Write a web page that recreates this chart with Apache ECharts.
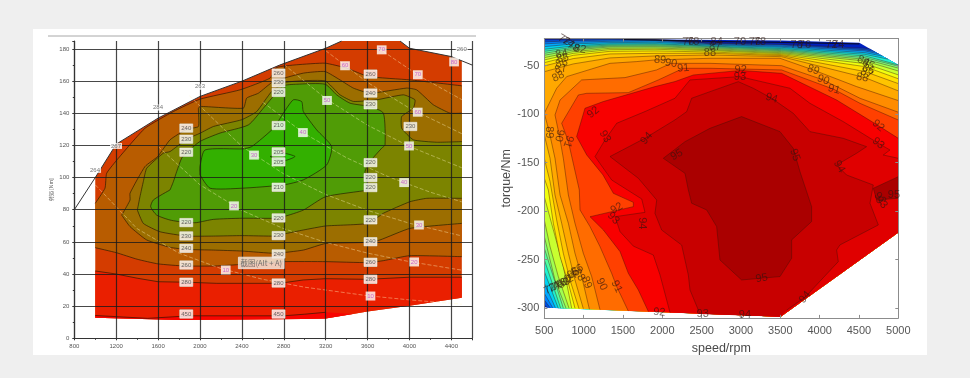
<!DOCTYPE html>
<html>
<head>
<meta charset="utf-8">
<style>
  html, body { margin: 0; padding: 0; background: #efefef; }
  #main { width: 970px; height: 378px; filter: blur(0.5px); }
</style>
<script src="https://cdn.jsdelivr.net/npm/echarts@6/dist/echarts.min.js"></script>
</head>
<body>
<div id="main"></div>
<script>
// left map: [rpm, Nm]
const leftEnvelope = [[1000,100],[1200,120.8],[1600,137],[2000,150.5],[2400,160],[2760,170],[3200,180.5],[3353,185],[3910,185],[4000,180.5],[4400,175.3],[4500,172.7],[4500,25.3],[4000,20.3],[3600,16.6],[3460,15.1],[3200,12.3],[2986,12],[1800,11.4],[1000,12.8]];
const leftOutline = [[800,80],[1000,100],[1200,120.8],[1600,137],[2000,150.5],[2400,160],[2760,170],[3200,180.5],[3353,185]];
const leftOutlineEnd = [[3910,185],[4000,180.5],[4400,175.3],[4600,170]];
const left450 = [[1000,14.2],[1500,12.4],[1900,14],[2800,14],[3000,15],[3200,16.2],[3460,15.1],[3200,12.3],[2986,12],[1800,11.4],[1000,12.8]];
const left280 = [[1000,41.9],[1200,40],[1400,37.4],[1600,35.2],[1873,34.9],[2160,34.2],[2400,34.2],[2716,34.2],[2800,34.6],[2986,36.3],[3200,37.1],[3600,36.7],[4000,38],[4500,38]];
const left280Floor = [[4500,25.3],[4000,20.3],[3600,16.6],[3460,15.1],[3200,12.3],[2986,12],[1800,11.4],[1000,12.8]];
const left260Low = [[1000,56.4],[1200,53.3],[1400,49.2],[1600,46.3],[1850,45],[2150,45],[2400,46],[2800,47.7],[3200,47.7],[3600,47.1],[3750,48.3],[4000,51.4],[4500,50.8]];
const left260Up = [[1000,84],[1093,93.4],[1109,102.7],[1220,112],[1475,130.7],[1746,141.1],[2000,148.8],[2382,154.6],[2669,161.9],[2732,168.5],[2923,170.2],[3194,171.2],[3401,168.1],[3608,162.9],[4005,160.8],[4500,157.1]];
const left240Low = [[1252,76.7],[1332,69.5],[1491,61.2],[1714,56.6],[1873,55.3],[2128,54.9],[2401,54.3],[2717,52.9],[2987,54.9],[3200,59],[3608,59.7],[3719,61.2],[4005,68.4],[4500,71.5]];
const left240Up = [[1252,76.7],[1265,78],[1332,86],[1332,90.3],[1475,106.9],[1596,113.1],[1714,123.5],[1873,130.1],[1985,131.8],[1985,143],[2000,144.3],[2414,143.2],[2446,149.5],[2557,152.5],[2701,159.8],[2987,165],[3194,166],[3337,160.8],[3464,155.7],[3624,152.5],[3974,155.7],[4069,154.6],[4228,145.3],[4387,140.1],[4500,140.1]];
const left230Low = [[1402,79.8],[1459,71.5],[1618,66.3],[1873,63.6],[2128,63.6],[2401,63.9],[2717,63.6],[2800,64.9],[2987,67.4],[3200,69.9],[3608,71.5],[3751,77.8],[4005,85],[4165,87.1],[4500,87.1]];
const left230Up = [[1402,79.8],[1427,88.1],[1459,97.5],[1491,105.8],[1650,115.2],[1714,116.2],[1873,123.9],[2000,127.6],[2128,131.8],[2398,136],[2541,141.1],[2685,153.6],[2828,159.4],[3194,160.2],[3337,151.5],[3464,147.4],[3687,148.4],[3942,151.5],[4053,148.4],[4037,143.2],[3926,138],[3926,130.7],[4037,123.5],[4260,122],[4500,122.4]];
const left220 = [[1714,92.3],[1555,86.1],[1529,81.9],[1586,76.7],[1714,73.6],[1873,72],[1968,72],[2128,74],[2401,74.7],[2717,74.7],[2800,75.7],[2987,79.8],[3200,88.1],[3608,92.3],[3608,93.4],[3576,103.8],[3624,110],[3735,118.3],[3767,120.4],[3751,140.1],[3624,144.2],[3433,146.3],[3305,151.5],[3194,158.1],[2923,158.1],[2796,157.1],[2685,149.4],[2605,143.2],[2462,132.8],[2191,127.7],[2000,122.5],[1873,115.6],[1825,112.1],[1778,103.8],[1746,97.5],[1714,92.3]];
const left210 = [[2000,101.7],[2000,106.9],[2048,117.2],[2414,117.9],[2494,119.3],[2701,130.7],[2796,140.1],[2891,148.4],[2971,147.3],[2987,141.1],[3114,129.7],[3257,119.3],[3210,107.9],[2987,98.6],[2802,95.5],[2401,93.4],[2096,93.4],[2000,101.7]];
const left205 = [[2669,113.1],[2796,115.2],[2907,113.1],[2796,110.4],[2669,113.1]];

// dashed power lines, kW
const power10 = [[1000,95.5],[1400,68.2],[1800,53],[2200,43.4],[2600,36.7],[3000,31.8],[3600,26.5],[4000,23.9],[4500,21.2]];
const power20 = [[1600,119.4],[2000,95.5],[2400,79.6],[2800,68.2],[3200,59.7],[3600,53],[4000,47.7],[4500,42.4]];
const power30 = [[1900,150.8],[2400,119.4],[2800,102.3],[3200,89.5],[3600,79.6],[4000,71.6],[4500,63.7]];
const power40 = [[2600,146.9],[3000,127.3],[3400,112.3],[3800,100.5],[4200,90.9],[4500,84.9]];
const power50 = [[2800,170.5],[3200,149.2],[3600,132.6],[4000,119.4],[4500,106.1]];
const power60 = [[3200,179],[3600,159.2],[4000,143.2],[4500,127.3]];
const power70 = [[3700,180.7],[4100,163],[4500,148.5]];

const leftBoxLabels = [
  [1869,130.8,'240'],[1869,123.9,'230'],[1869,115.8,'220'],[1869,72,'220'],[1869,63.7,'230'],[1869,56,'240'],[1869,45.6,'260'],[1869,34.9,'280'],[1869,15.1,'450'],
  [2750,165,'260'],[2750,159,'230'],[2750,153,'220'],[2750,132.4,'210'],[2750,116,'205'],[2750,109.8,'205'],[2750,94,'210'],[2750,74.9,'220'],[2750,63.9,'230'],[2750,52.5,'240'],[2750,34.4,'280'],[2750,15.1,'450'],
  [3628,164.4,'260'],[3628,152.6,'240'],[3628,145.3,'230'],[3628,109.3,'220'],[3628,100,'220'],[3628,93.8,'220'],[3628,73.7,'220'],[3628,60.1,'240'],[3628,47.3,'260'],[3628,36.7,'280'],
  [4009,131.8,'230']
];
const leftPowerLabels = [
  [3735,179.5,'70'],[3385,169.6,'60'],[4426,172,'80'],[4080,164,'70'],[3213,148,'50'],[4079,140.7,'60'],[2983,128,'40'],[3996,119.7,'50'],[2516,114,'30'],[3949,96.9,'40'],
  [2325,82.4,'20'],[4091,70.5,'30'],[4045,47.5,'20'],[2246,42.5,'10'],[3628,26.3,'10']
];
const leftPlainLabels = [[998,104.8,'264'],[1599,143.6,'284'],[2000,156.5,'263'],[1198,119.7,'267'],[4499,179.5,'260']];
const leftMarker = [[2796,116.6]];
const leftTag = [[2585,46.9,'截图(Alt + A)']];
const leftXTicks = [800,1200,1600,2000,2400,2800,3200,3600,4000,4400];
const leftYTicks = [0,20,40,60,80,100,120,140,160,180];

// right map: [rpm, Nm], contour of each efficiency level
const rightEnvelope = [[500,-22],[3517,-24],[4504,-26.5],[5000,-49.3],[5000,-222],[3504,-308.7],[500,-299]];
const rightCorner = [[5000,-222],[3504,-308.7]];
const rightCornerTop = [[5000,-49.3],[5000,-222],[3504,-308.7]];
const level72 = [[539,-299.5],[500,-296.6],[500,-23.5],[869,-22.8],[1335,-22.5],[1907,-23],[2606,-26.6],[3517,-28],[4576,-32.1],[4650,-33.2]];
const level74 = [[573,-299.5],[500,-291.5],[500,-25.6],[869,-24.2],[1335,-23.5],[1907,-23.5],[2606,-27.3],[3517,-28.7],[4576,-33.5],[4700,-35.5]];
const level76 = [[606,-299.5],[500,-284.6],[500,-27.6],[869,-25.9],[1335,-24.9],[1907,-24.5],[2606,-28],[3517,-30],[4576,-34.8],[4750,-37.8]];
const level78 = [[640,-299.5],[500,-274],[500,-30.4],[869,-27.6],[1335,-26.3],[1907,-25.9],[2606,-28.7],[3517,-31.1],[4576,-36.6],[4800,-40.1]];
const level80 = [[678,-300],[500,-262],[500,-33.1],[869,-29.7],[1335,-27.6],[1907,-27.3],[2606,-29.7],[3517,-32.4],[4576,-38.3],[4870,-43.3]];
const level81 = [[708,-300],[500,-250],[500,-35.2],[869,-31.1],[1335,-28.7],[1907,-28.3],[2606,-30.4],[3517,-33.5],[4576,-40],[5000,-49.3]];
const level82 = [[742,-300],[500,-238],[500,-37.3],[869,-32.4],[1335,-29.7],[1907,-29.4],[2606,-31.4],[3517,-34.5],[4576,-41.7],[5000,-50.5]];
const level83 = [[776,-300],[636,-270.9],[573,-250.3],[500,-226],[500,-39.3],[869,-33.8],[1335,-30.7],[1907,-30.4],[2606,-32.4],[3517,-35.5],[4576,-43.4],[5000,-52.5]];
const level84 = [[814,-300],[678,-267.4],[573,-236.5],[500,-209],[500,-41.7],[869,-35.5],[1335,-32.1],[1907,-31.8],[2606,-33.5],[3517,-36.6],[4576,-45.2],[5000,-55.5]];
const level85 = [[848,-300],[742,-257.1],[615,-219.3],[500,-185],[500,-44.1],[869,-37.3],[1335,-33.5],[1907,-33.1],[2606,-34.5],[3517,-37.6],[4576,-47.9],[5000,-59.5]];
const level86 = [[890,-300],[806,-274.3],[700,-246.8],[615,-212.5],[551,-178.1],[500,-166],[500,-46.9],[869,-39.3],[1335,-35.2],[1907,-34.8],[2606,-35.9],[3517,-38.6],[4576,-51],[5000,-63.5]];
const level87 = [[941,-300.5],[827,-270.9],[742,-243.4],[657,-209],[573,-169.5],[500,-145.5],[500,-50.3],[869,-42.7],[1335,-37.9],[1907,-37.3],[2606,-37.2],[3517,-39.6],[4576,-56.1],[5000,-68.5]];
const level88 = [[996,-300.5],[890,-270.9],[806,-243.4],[721,-212.5],[636,-183.3],[573,-145.5],[500,-121.5],[500,-56.2],[869,-48.2],[1335,-42],[1907,-40],[2606,-39],[3517,-40.7],[4576,-62.3],[5000,-76]];
const level89 = [[1073,-301],[975,-267.4],[890,-243.4],[806,-212.5],[700,-183.3],[636,-145.5],[564,-118.7],[500,-99.1],[657,-73.3],[784,-61.3],[1335,-47.6],[1674,-45.8],[1907,-44.1],[2606,-42.4],[3496,-42.4],[3919,-54.4],[4470,-71.6],[5000,-86]];
const level90 = [[1208,-301.5],[1102,-267.4],[996,-243.4],[890,-212.5],[806,-183.3],[742,-145.5],[691,-122.1],[636,-100.8],[700,-85.4],[975,-64.7],[1526,-62.3],[1928,-54.4],[2111,-47.6],[2606,-47.6],[3517,-50],[4047,-64.7],[4513,-83.6],[5000,-98]];
const level91 = [[1568,-303],[1420,-277.7],[1356,-264],[1208,-236.5],[1081,-215.9],[954,-198.7],[945,-178.1],[806,-128.3],[721,-109.4],[933,-80.2],[1039,-78.5],[1568,-77.8],[1950,-64.7],[2267,-52.7],[2606,-52.7],[3517,-54.4],[4182,-74.4],[4513,-88.8],[5000,-106]];
const level92 = [[1823,-303.5],[1695,-281.2],[1568,-264],[1463,-241.7],[1251,-219.4],[1081,-205.7],[1632,-195.3],[1632,-190.9],[1378,-181.6],[1246,-162.6],[1039,-142],[911,-123.1],[1017,-93.9],[1250,-87],[1907,-71.6],[2161,-66.4],[2395,-59.6],[2996,-54.9],[3517,-57.9],[4216,-85.4],[4746,-111.8],[5000,-124.9]];
const level93 = [[2098,-304.5],[1971,-265.7],[1886,-245.2],[1632,-236],[1463,-221.1],[1399,-205.7],[1780,-201.2],[1738,-187.4],[1357,-167.9],[1145,-143.7],[1272,-126.5],[1420,-109.4],[1780,-97.3],[2161,-83.6],[2352,-64.7],[2987,-61.3],[3623,-73.3],[3877,-88.8],[4301,-107.7],[4746,-130],[4894,-136.9],[4809,-142.1],[5000,-145.5]];
const level94 = [[2479,-306],[2352,-281.2],[2331,-265.8],[2246,-234.9],[1992,-219.4],[1907,-202.2],[1929,-188.5],[1696,-166.1],[1335,-143.7],[1780,-124.8],[2161,-105.9],[2310,-97.4],[2373,-83.6],[2606,-76.8],[2966,-66.5],[3157,-73.3],[3390,-83.6],[3665,-99.1],[3877,-118],[4301,-124.9],[4597,-133.5],[4470,-140.3],[4216,-152.4],[4343,-162.7],[4682,-173],[4640,-191.8],[4746,-214.2],[4258,-234.8],[4216,-240],[4237,-252],[3814,-288.7],[3580,-302]];
const level95 = [[2013,-145.5],[2289,-128.3],[2606,-114.6],[3008,-102.5],[3496,-118],[3665,-135.2],[3750,-159.2],[3835,-179.9],[3898,-195.3],[3898,-210.7],[3644,-229.6],[3644,-248.5],[3496,-267.4],[3008,-270.9],[2733,-250.3],[2691,-215.9],[2564,-198.7],[2373,-191.8],[2331,-178.1],[2289,-161],[2013,-145.5]];
const level95Right = [[4682,-176.4],[5000,-164.4],[5000,-186.7],[4724,-188.4],[4682,-176.4]];
const level70Line = [[1500,-23],[2606,-25],[3517,-26],[4504,-27.6]];

// [rpm, Nm, text, rotate]
const rightLabels = [
  [750,-23.5,'72',-30],[805,-26.3,'74',-30],[869,-30.4,'78',-30],[953,-32.8,'82',-10],[720,-38,'84',10],[733,-42.4,'85',10],[720,-47.6,'86',10],[708,-53.7,'87',10],[678,-61.3,'88',25],
  [564,-118.7,'89',-90],[691,-122.1,'90',-100],[806,-128.3,'91',-110],[1123,-98.1,'92',40],[1272,-123.1,'93',-60],[1801,-124.9,'94',50],[2183,-142,'95',30],
  [1971,-44.1,'89',-5],[2111,-47.6,'90',-10],[2267,-52.7,'91',5],[2996,-54.4,'92',0],[2987,-61.3,'93',0],[3390,-83.6,'94',-15],[3686,-142.1,'95',-70],[4250,-154.1,'94',-60],
  [3919,-54.4,'89',-20],[4047,-64.7,'90',-20],[4182,-74.4,'91',-15],[4746,-111.8,'92',-40],[4746,-130,'93',-40],
  [4555,-45.2,'84',-25],[4619,-48.6,'85',-25],[4619,-53.7,'86',-25],[4598,-57.9,'87',-25],[4542,-62.3,'88',-10],
  [2987,-25.2,'70',0],[2691,-25.9,'84',0],[2670,-30.4,'87',0],[2606,-37.2,'88',0],[2331,-25.2,'76',0],[2394,-25.2,'78',0],[3178,-26,'76',0],[3242,-26,'78',0],[3708,-28.7,'78',0],[3813,-28.7,'76',0],[4152,-28.7,'72',0],[4237,-28.7,'74',0],
  [1420,-197,'92',30],[1378,-207.3,'93',-45],[1738,-212.5,'94',-90],[1039,-273.6,'89',-70],[1229,-275.3,'90',-65],[1420,-277.7,'91',-65],[1962,-304.2,'92',-5],[2513,-306,'93',0],
  [3051,-306.9,'94',0],[3263,-269.2,'95',10],[3814,-288.7,'94',50],[4767,-186.7,'92',-50],[4788,-191.2,'93',-50],[4945,-183.3,'95',0],
  [573,-280.1,'72',30],[623,-278.4,'74',30],[666,-276.7,'76',30],[708,-275.3,'78',30],[750,-274.3,'80',30],[793,-271.6,'82',30],[835,-268.1,'84',30],[869,-264,'85',30],[920,-260.6,'86',30],[945,-265.7,'88',-60]
];
const rightXTicks = [500,1000,1500,2000,2500,3000,3500,4000,4500,5000];
const rightYTicks = [-50,-100,-150,-200,-250,-300];

const lineDark = 'rgba(30,20,0,0.7)';
const lineWarm = 'rgba(60,15,5,0.45)';

// fill + contour stroke, all points go through the axis scales
function region(gridIdx, fillPts, strokes, color, stroke, fillSmooth, lineSmooth) {
  return {
    type: 'custom',
    xAxisIndex: gridIdx === 0 ? 0 : 1,
    yAxisIndex: gridIdx === 0 ? 0 : 1,
    clip: true,
    silent: true,
    z: 2,
    data: [fillPts[0]],
    renderItem: (params, api) => {
      const children = [{
        type: 'polygon',
        shape: { points: fillPts.map((p) => api.coord(p)), smooth: fillSmooth || 0 },
        style: { fill: color }
      }];
      if (stroke) {
        strokes.forEach((s) => {
          children.push({
            type: 'polyline',
            shape: { points: s.map((p) => api.coord(p)), smooth: lineSmooth || 0 },
            style: { fill: null, stroke: stroke, lineWidth: 0.9 }
          });
        });
      }
      return { type: 'group', children };
    }
  };
}

function bandLeft(low, up, color) {
  return region(0, low.concat(up.slice().reverse()), [low, up], color, lineDark, 0, 0.15);
}

function powerLine(pts) {
  return {
    type: 'line', xAxisIndex: 0, yAxisIndex: 0, data: pts, symbol: 'none', silent: true, z: 2,
    lineStyle: { color: 'rgba(255,245,190,0.4)', width: 1, type: 'dashed' }
  };
}

function plainLine(xi, pts, color, width) {
  return {
    type: 'line', xAxisIndex: xi, yAxisIndex: xi, data: pts, symbol: 'none', silent: true, z: 2,
    lineStyle: { color: color, width: width }
  };
}

function textSeries(xi, rows, labelStyle, z) {
  return {
    type: 'scatter', xAxisIndex: xi, yAxisIndex: xi, symbolSize: 0, silent: true, z: z || 6,
    data: rows.map((r) => ({ value: r.slice(0, 3), label: { rotate: r[3] || 0 } })),
    label: Object.assign({ show: true, position: 'inside', formatter: (p) => p.value[2] }, labelStyle)
  };
}

function rightLevel(pts, color, corner) {
  return region(1, pts.concat(corner || rightCorner), [pts], color, lineWarm);
}

const rightLevels = [
  [level72,'#0050e0',rightCornerTop],[level74,'#0080ff',rightCornerTop],[level76,'#00a8ff',rightCornerTop],[level78,'#00d0f0',rightCornerTop],[level80,'#20f0d0',rightCornerTop],
  [level81,'#50ffa0'],[level82,'#80ff80'],[level83,'#a0ff50'],[level84,'#c8ff30'],[level85,'#f0ff10'],
  [level86,'#ffe000'],[level87,'#ffc400'],[level88,'#ffa800'],[level89,'#ff8c00'],[level90,'#ff6c00'],[level91,'#ff4000'],[level92,'#f80000'],[level93,'#e00000']
];

const axisGrey = '#8c8c8c';
const plainNumber = (v) => String(v);
const chart = echarts.init(document.getElementById('main'), null, { renderer: 'canvas' });

chart.setOption({
  animation: false,
  backgroundColor: '#efefef',
  graphic: [
    { type: 'rect', z: -10, silent: true, shape: { x: 33, y: 29, width: 894, height: 326 }, style: { fill: '#ffffff' } },
    { type: 'line', z: -9, silent: true, shape: { x1: 48, y1: 36, x2: 476, y2: 36 }, style: { stroke: '#a8a8a8', lineWidth: 1 } }
  ],
  grid: [
    { left: 74.3, top: 41, width: 398, height: 297.3 },
    { left: 544.3, top: 38.5, width: 354, height: 279.4 }
  ],
  xAxis: [
    {
      gridIndex: 0, type: 'value', min: 800, max: 4600, interval: 400, z: 4,
      axisLine: { lineStyle: { color: '#333', width: 1.2 } },
      axisTick: { show: true, length: 2, lineStyle: { color: '#333' } },
      minorTick: { show: true, splitNumber: 2, length: 1.5, lineStyle: { color: '#333' } },
      axisLabel: { fontSize: 6, color: '#555', margin: 5, fontFamily: 'Liberation Sans', customValues: leftXTicks, formatter: plainNumber },
      splitLine: { show: true, lineStyle: { color: 'rgba(25,25,25,0.8)', width: 1.2 } }
    },
    {
      gridIndex: 1, type: 'value', min: 500, max: 5000, interval: 500, z: 5,
      axisLine: { lineStyle: { color: axisGrey } },
      axisTick: { inside: true, length: 3, lineStyle: { color: axisGrey }, customValues: rightXTicks },
      axisLabel: { fontSize: 11, color: '#555', margin: 8, fontFamily: 'Liberation Sans', customValues: rightXTicks, hideOverlap: false, formatter: plainNumber },
      splitLine: { show: false },
      name: 'speed/rpm', nameLocation: 'middle', nameGap: 23,
      nameTextStyle: { fontSize: 12.5, color: '#4a4a4a', fontFamily: 'Liberation Sans' }
    },
    {
      gridIndex: 1, type: 'value', min: 500, max: 5000, interval: 500, position: 'top', z: 5,
      axisLine: { lineStyle: { color: axisGrey } },
      axisTick: { inside: true, length: 3, lineStyle: { color: axisGrey }, customValues: rightXTicks },
      axisLabel: { show: false }, splitLine: { show: false }
    }
  ],
  yAxis: [
    {
      gridIndex: 0, type: 'value', min: 0, max: 185, interval: 20, z: 4,
      axisLine: { lineStyle: { color: '#333', width: 1.2 } },
      axisTick: { show: true, length: 2, lineStyle: { color: '#333' } },
      minorTick: { show: true, splitNumber: 2, length: 1.5, lineStyle: { color: '#333' } },
      axisLabel: { fontSize: 6, color: '#555', margin: 5, fontFamily: 'Liberation Sans', customValues: leftYTicks, formatter: plainNumber },
      splitLine: { show: true, showMaxLine: false, lineStyle: { color: 'rgba(25,25,25,0.8)', width: 1.2 } },
      name: '转矩 [Nm]', nameLocation: 'middle', nameGap: 21, nameRotate: 90,
      nameTextStyle: { fontSize: 5, color: '#555', fontFamily: 'Noto Sans CJK SC' }
    },
    {
      gridIndex: 1, type: 'value', min: -310, max: -22, z: 5,
      axisLine: { lineStyle: { color: axisGrey } },
      axisTick: { inside: true, length: 3, lineStyle: { color: axisGrey }, customValues: rightYTicks },
      axisLabel: { fontSize: 11, color: '#555', margin: 5, fontFamily: 'Liberation Sans', customValues: rightYTicks, formatter: plainNumber },
      splitLine: { show: false },
      name: 'torque/Nm', nameLocation: 'middle', nameGap: 24, nameRotate: 90,
      nameTextStyle: { fontSize: 12.5, color: '#4a4a4a', fontFamily: 'Liberation Sans' }
    },
    {
      gridIndex: 1, type: 'value', min: -310, max: -22, position: 'right', z: 5,
      axisLine: { lineStyle: { color: axisGrey } },
      axisTick: { inside: true, length: 3, lineStyle: { color: axisGrey }, customValues: rightYTicks },
      axisLabel: { show: false }, splitLine: { show: false }
    }
  ],
  series: [
    region(0, leftEnvelope, [], '#d43c00'),
    region(0, left280.concat(left280Floor), [left280], '#ea1f00', lineDark),
    region(0, left450, [], '#f80400'),
    plainLine(0, left450.slice(0, 6), lineDark, 0.9),
    bandLeft(left260Low, left260Up, '#b85c00'),
    bandLeft(left240Low, left240Up, '#9c6e00'),
    bandLeft(left230Low, left230Up, '#7c8400'),
    region(0, left220, [left220], '#509c06', lineDark, 0.2, 0.2),
    region(0, left210, [left210], '#33b000', lineDark, 0.2, 0.2),
    region(0, left205, [left205], '#24c400', lineDark, 0.2, 0.2),
    powerLine(power10), powerLine(power20), powerLine(power30), powerLine(power40), powerLine(power50), powerLine(power60), powerLine(power70),
    plainLine(0, leftOutline, '#333', 1),
    plainLine(0, leftOutlineEnd, '#333', 1),
    {
      type: 'scatter', xAxisIndex: 0, yAxisIndex: 0, data: leftMarker, symbolSize: 4, silent: true, z: 6,
      itemStyle: { color: '#e01010' }
    },
    textSeries(0, leftPlainLabels, { fontSize: 6, color: '#555', fontFamily: 'Liberation Sans', backgroundColor: '#fff', padding: [0, 1] }),
    textSeries(0, leftBoxLabels, {
      fontSize: 6, color: '#444', fontFamily: 'Liberation Sans', backgroundColor: '#fff',
      borderColor: '#c8c0a8', borderWidth: 0.5, padding: [1.2, 1.5]
    }),
    textSeries(0, leftPowerLabels, {
      fontSize: 6, color: '#c048c8', fontFamily: 'Liberation Sans', backgroundColor: '#fff', padding: [1.5, 1.5]
    }),
    textSeries(0, leftTag, {
      fontSize: 7.5, color: '#555', fontFamily: 'Noto Sans CJK SC', backgroundColor: '#f6eee6',
      borderColor: '#ddd', borderWidth: 0.5, padding: [2, 2]
    }, 7),
    region(1, rightEnvelope, [], '#0020c0')
  ].concat(
    rightLevels.map((l) => rightLevel(l[0], l[1], l[2])),
    [
      region(1, level94.concat([rightCorner[1]]), [level94], '#c80000', lineWarm),
      region(1, level95, [level95], '#aa0000', lineWarm),
      region(1, level95Right, [level95Right], '#aa0000', lineWarm),
      plainLine(1, level70Line, 'rgba(10,10,30,0.85)', 1.2),
      textSeries(1, rightLabels, { fontSize: 11, color: 'rgba(45,20,15,0.8)', fontFamily: 'Liberation Sans' })
    ]
  )
});
</script>
</body>
</html>
